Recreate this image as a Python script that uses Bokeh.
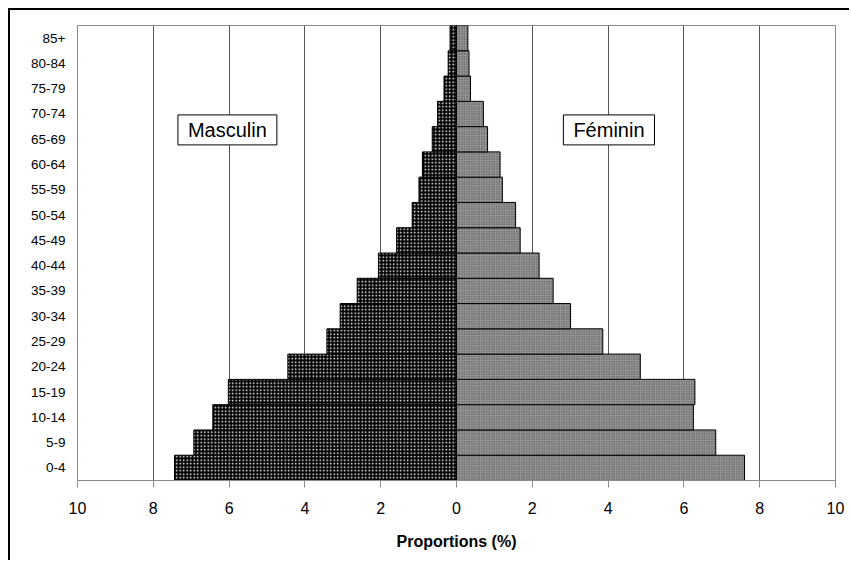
from bokeh.plotting import figure
from bokeh.models import FactorRange, Range1d, FixedTicker, Label
from bokeh.embed import file_html
from bokeh.resources import INLINE

ages = ["0-4", "5-9", "10-14", "15-19", "20-24", "25-29", "30-34", "35-39", "40-44",
        "45-49", "50-54", "55-59", "60-64", "65-69", "70-74", "75-79", "80-84", "85+"]
masculin = [7.44, 6.93, 6.43, 6.02, 4.45, 3.42, 3.07, 2.62, 2.06,
            1.58, 1.17, 0.99, 0.90, 0.64, 0.50, 0.33, 0.22, 0.17]
feminin = [7.60, 6.84, 6.25, 6.29, 4.85, 3.86, 3.01, 2.55, 2.18,
           1.68, 1.56, 1.21, 1.15, 0.82, 0.71, 0.37, 0.33, 0.30]
x_ticks = [-10, -8, -6, -4, -2, 0, 2, 4, 6, 8, 10]
x_tick_labels = ["10", "8", "6", "4", "2", "0", "2", "4", "6", "8", "10"]

FONT = "Liberation Sans"

p = figure(width=841, height=552, output_backend="svg", toolbar_location=None,
           y_range=FactorRange(factors=ages, range_padding=0),
           x_range=Range1d(-10, 10),
           min_border_left=67, min_border_right=16, min_border_top=15, min_border_bottom=82)
p.styles = {"border-left": "2px solid black", "border-top": "2px solid black",
            "margin-left": "8px", "margin-top": "8px"}

p.outline_line_color = "#8a8a8a"
p.outline_line_width = 1
p.background_fill_color = "white"
p.border_fill_color = "white"

male_left = [-v for v in masculin]
p.hbar(y=ages, left=male_left, right=0, height=1.0, fill_color="black",
       line_color="black", line_width=1,
       hatch_pattern=".", hatch_color="white", hatch_scale=3.5, hatch_weight=1.2)
p.hbar(y=ages, left=0, right=feminin, height=1.0, fill_color="#959595",
       line_color="black", line_width=1,
       hatch_pattern=".", hatch_color="#444444", hatch_scale=2.5, hatch_weight=0.8)

# axes
p.xaxis.ticker = FixedTicker(ticks=x_ticks)
p.xaxis.major_label_overrides = {t: s for t, s in zip(x_ticks, x_tick_labels)}
p.xaxis.minor_tick_line_color = None
p.xaxis.major_tick_out = 7
p.xaxis.major_tick_in = 0
p.xaxis.major_tick_line_color = "#8a8a8a"
p.xaxis.axis_line_color = "#8a8a8a"
p.xaxis.major_label_standoff = 14
p.xaxis.major_label_text_font = FONT
p.xaxis.major_label_text_font_size = "16px"
p.xaxis.major_label_text_color = "black"
p.xaxis.axis_label = "Proportions (%)"
p.xaxis.axis_label_text_font = FONT
p.xaxis.axis_label_text_font_size = "16px"
p.xaxis.axis_label_text_font_style = "bold"
p.xaxis.axis_label_text_color = "black"
p.xaxis.axis_label_standoff = 16

p.yaxis.major_tick_out = 0
p.yaxis.major_tick_in = 0
p.yaxis.axis_line_color = "#8a8a8a"
p.yaxis.major_label_standoff = 12
p.yaxis.major_label_text_font = FONT
p.yaxis.major_label_text_font_size = "13.5px"
p.yaxis.major_label_text_color = "black"

p.xgrid.ticker = FixedTicker(ticks=x_ticks)
p.xgrid.grid_line_color = "#555555"
p.xgrid.grid_line_width = 1
p.ygrid.grid_line_color = None

for txt, xpos in [("Masculin", -7.35), ("Féminin", 2.82)]:
    lab = Label(x=xpos, y=13.87, text=txt, text_font=FONT, text_font_size="20px",
                text_color="black", text_align="left", text_baseline="middle",
                background_fill_color="white", border_line_color="black",
                border_line_width=1, padding=(10, 4))
    p.add_layout(lab)

open("out.html", "w").write(file_html(p, INLINE))
